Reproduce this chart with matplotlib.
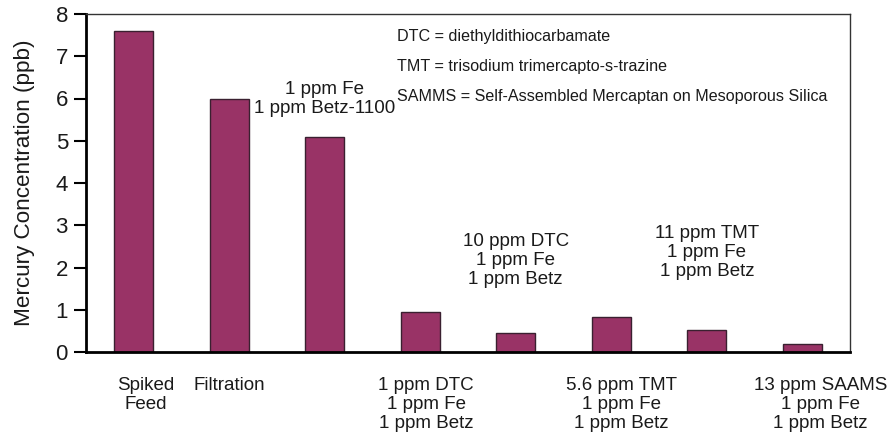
import matplotlib
matplotlib.use("Agg")
import matplotlib.pyplot as plt
import matplotlib.transforms as mtransforms

plt.rcParams["font.family"] = ["Liberation Sans", "DejaVu Sans"]

# treatment steps and measured mercury (ppb)
treatments = [
    "Spiked\nFeed",
    "Filtration",
    "1 ppm Fe\n1 ppm Betz-1100",
    "1 ppm DTC\n1 ppm Fe\n1 ppm Betz",
    "10 ppm DTC\n1 ppm Fe\n1 ppm Betz",
    "5.6 ppm TMT\n1 ppm Fe\n1 ppm Betz",
    "11 ppm TMT\n1 ppm Fe\n1 ppm Betz",
    "13 ppm SAAMS\n1 ppm Fe\n1 ppm Betz",
]
mercury = [7.6, 6.0, 5.1, 0.95, 0.46, 0.82, 0.52, 0.18]
y_ticks = [0, 1, 2, 3, 4, 5, 6, 7, 8]
notes = [
    "DTC = diethyldithiocarbamate",
    "TMT = trisodium trimercapto-s-trazine",
    "SAMMS = Self-Assembled Mercaptan on Mesoporous Silica",
]

# every other label is drawn inside the plot instead of under the axis
inside_label_y = {2: 5.99, 4: 2.17, 6: 2.36}
below_label_dx = {0: 12, 3: 6, 5: 10, 7: 18}

bar_color = "#993366"
text_color = "#1a1a1a"

fig = plt.figure(figsize=(8.91, 4.42), dpi=100)
ax = fig.add_axes([86 / 891, 1 - 352 / 442, 764 / 891, 338 / 442])

x = list(range(len(treatments)))
ax.bar(x, mercury, width=0.41, color=bar_color, edgecolor="#3a2030", linewidth=1.0, zorder=2)

ax.set_xlim(-0.5, len(treatments) - 0.5)
ax.set_ylim(0, 8)
ax.set_yticks(y_ticks)
ax.tick_params(axis="y", labelsize=16, length=9, width=1.5, direction="out", pad=4,
               labelcolor=text_color)

below = [t if i not in inside_label_y else "" for i, t in enumerate(treatments)]
ax.set_xticks(x)
ax.set_xticklabels(below, fontsize=13.5, linespacing=1.15, color=text_color)
ax.tick_params(axis="x", length=0, pad=18)
for i, lab in enumerate(ax.get_xticklabels()):
    dx = below_label_dx.get(i, 0)
    if dx:
        off = mtransforms.ScaledTranslation(dx / 100, 0, fig.dpi_scale_trans)
        lab.set_transform(lab.get_transform() + off)

for i, yy in inside_label_y.items():
    ax.text(i, yy, treatments[i], ha="center", va="center", fontsize=13.5,
            linespacing=1.15, color=text_color)

ax.set_ylabel("Mercury Concentration (ppb)", fontsize=16.2, labelpad=15, color=text_color)

for k, line in enumerate(notes):
    ax.text(397 / 891, 1 - (37 + 29.5 * k) / 442, line, transform=fig.transFigure,
            ha="left", va="center", fontsize=11.6, color=text_color)

for side in ["left", "bottom"]:
    ax.spines[side].set_linewidth(2)
    ax.spines[side].set_color("black")
for side in ["top", "right"]:
    ax.spines[side].set_linewidth(1)
    ax.spines[side].set_color("#333333")

fig.savefig("out.png", dpi=100)
